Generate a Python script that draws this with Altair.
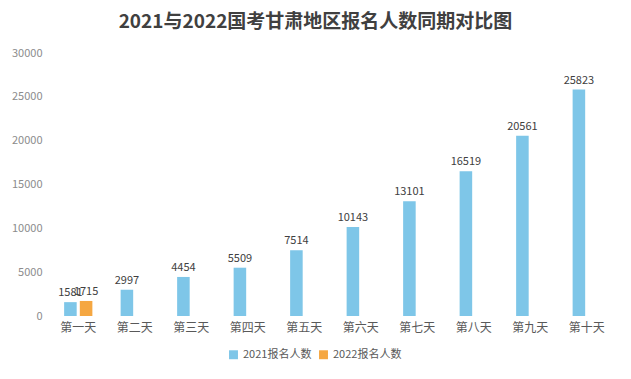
import altair as alt
import pandas as pd

days = ["第一天", "第二天", "第三天", "第四天", "第五天", "第六天", "第七天", "第八天", "第九天", "第十天"]
values_2021 = [1581, 2997, 4454, 5509, 7514, 10143, 13101, 16519, 20561, 25823]
values_2022 = [1715]
series = ["2021报名人数", "2022报名人数"]
colors = ["#7EC6E8", "#F5A742"]

rows = []
for d, v in zip(days, values_2021):
    rows.append({"day": d, "series": series[0], "value": v})
for d, v in zip(days, values_2022):
    rows.append({"day": d, "series": series[1], "value": v})
df = pd.DataFrame(rows)

FONT = "Noto Sans CJK SC"

x = alt.X("day:N", sort=days, title=None,
          scale=alt.Scale(paddingInner=0.5, paddingOuter=0.25),
          axis=alt.Axis(labelAngle=0, domain=False, ticks=False, labelFont=FONT,
                        labelFontSize=12, labelColor="#595959", labelPadding=6))
xo = alt.XOffset("series:N", sort=series, scale=alt.Scale(paddingInner=0.2))
y = alt.Y("value:Q", title=None,
          scale=alt.Scale(domain=[0, 30000]),
          axis=alt.Axis(values=[0, 5000, 10000, 15000, 20000, 25000, 30000], format="d",
                        grid=False, domain=False, ticks=False, labelFont=FONT,
                        labelFontSize=11, labelColor="#8C8C8C", labelPadding=8))

bars = alt.Chart(df).mark_bar().encode(
    x=x, xOffset=xo, y=y,
    color=alt.Color("series:N", sort=series,
                    scale=alt.Scale(domain=series, range=colors),
                    legend=alt.Legend(title=None, orient="none", direction="horizontal",
                                      legendX=178, legendY=296, symbolType="square",
                                      symbolSize=80, labelFont=FONT, labelFontSize=11,
                                      labelColor="#595959", columnPadding=6,
                                      symbolStrokeWidth=0)),
)

text = alt.Chart(df).mark_text(dy=-9, font=FONT, fontSize=11, color="#404040").encode(
    x=x, xOffset=xo, y=y, text=alt.Text("value:Q", format="d"),
)

chart = (bars + text).properties(
    width=565, height=263,
    title=alt.TitleParams("2021与2022国考甘肃地区报名人数同期对比图", font=FONT, fontSize=19,
                          fontWeight="bold", color="#404040", anchor="middle", offset=15, dx=-17),
    autosize="none",
    padding={"left": 42, "top": 45, "right": 8, "bottom": 50},
).configure_view(stroke=None)

chart.save("out.html", embed_options={"renderer": "svg", "actions": False})
